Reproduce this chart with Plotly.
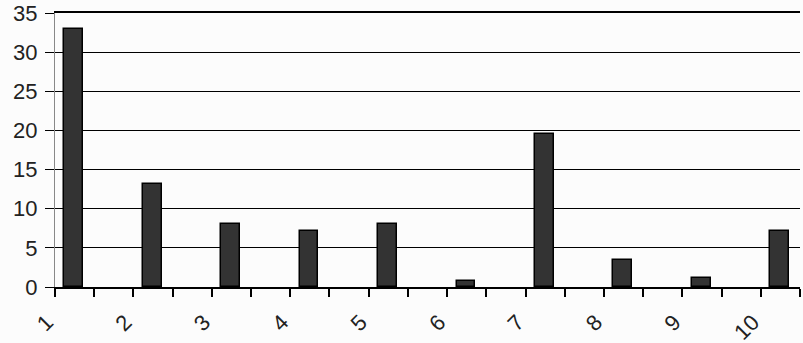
import plotly.graph_objects as go

categories = [1, 2, 3, 4, 5, 6, 7, 8, 9, 10]
tick_labels = ["1", "2", "3", "4", "5", "6", "7", "8", "9", "10"]
values = [32.9, 13.2, 8.1, 7.2, 8.1, 0.8, 19.5, 3.4, 1.1, 7.2]
y_ticks = [0, 5, 10, 15, 20, 25, 30, 35]

FONT = "Liberation Sans, Arial, sans-serif"

fig = go.Figure()
fig.add_trace(go.Bar(
    x=categories,
    y=values,
    width=0.24,
    offset=0.12,
    marker=dict(color="#333333", line=dict(color="#000000", width=1.5)),
    showlegend=False,
))

fig.update_layout(
    width=803,
    height=343,
    margin=dict(l=55, r=3, t=13, b=56, autoexpand=False),
    paper_bgcolor="#fcfcfc",
    plot_bgcolor="#fcfcfc",
    font=dict(family=FONT, size=22, color="#222222"),
    xaxis=dict(
        range=[1, 10.5],
        tickmode="array",
        tickvals=categories,
        ticktext=tick_labels,
        tickangle=-45,
        ticks="outside",
        ticklen=8,
        tickcolor="#000000",
        tickwidth=1.5,
        showgrid=False,
        showline=True,
        mirror=True,
        linecolor="#000000",
        linewidth=1.5,
        zeroline=False,
        automargin=False,
        ticklabelstandoff=4,
        ticklabelshift=-8,
        minor=dict(tickmode="linear", dtick=0.5, tick0=1, ticks="outside", ticklen=8,
                   tickcolor="#000000", tickwidth=1.5, showgrid=False),
    ),
    yaxis=dict(
        range=[0, 35],
        tickvals=y_ticks,
        ticks="outside",
        ticklen=9,
        tickcolor="#000000",
        showgrid=True,
        gridcolor="#000000",
        gridwidth=1,
        showline=True,
        linecolor="#888888",
        linewidth=1,
        zeroline=False,
        automargin=False,
        ticklabelstandoff=3,
    ),
    bargap=0,
)

fig.write_html("out.html", config={"displayModeBar": False},
               post_script="document.body.style.margin='0';")
